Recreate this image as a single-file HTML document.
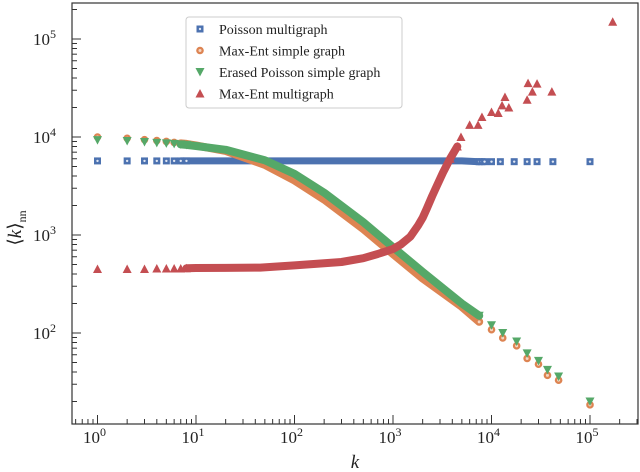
<!DOCTYPE html>
<html><head><meta charset="utf-8">
<style>
html,body{margin:0;padding:0;background:#fff;}
svg{display:block;font-family:"Liberation Serif",serif;}
</style></head>
<body>
<svg id="chart" width="640" height="472" viewBox="0 0 640 472"></svg>
<script>
// ---- data ----
const poissonK = [1,2,3,4,5,6,7,8,9,10,20,50,100,200,500,1000,2000,5000,7500,8000,8500,10000,12300,17000,23000,29000,42000,100000];
const poissonV = [5700,5700,5700,5700,5700,5700,5700,5700,5700,5700,5700,5700,5700,5700,5700,5700,5700,5700,5600,5600,5600,5600,5600,5600,5600,5600,5600,5600];
const simpleK = [1,2,3,4,5,6,7,8,10,20,50,100,200,500,1000,2000,5000,7500,10000,13000,18000,23000,30000,37000,48000,100000];
const simpleV = [10000,9700,9400,9200,9000,8800,8600,8500,8200,7200,5200,3600,2300,1150,640,360,185,130,108,89,74,55,48,37,33,18.5];
const erasedK = [1,2,3,4,5,6,7,8,10,20,50,100,200,500,1000,2000,5000,7500,10000,13000,18000,23000,30000,37000,48000,100000];
const erasedV = [9300,9100,8900,8700,8600,8500,8400,8300,8100,7400,5800,4200,2700,1350,750,420,200,150,120,100,82,62,52,42,36,20];
const multiK = [1,2,3,4,5,6,7,8,10,20,45,100,300,500,700,1000,1200,1500,1800,2000,2200,2500,2800,3200,3800,4500,4900,6000,7300,8000,10000,11700,12800,13700,15000,23000,23500,26000,29000,41000,170000];
const multiV = [450,450,450,455,455,455,455,458,460,462,465,490,530,580,640,720,800,960,1250,1500,1850,2500,3200,4300,6000,8000,10000,13300,13300,16000,18000,17600,21000,25600,20000,24000,35500,29000,35000,29000,150000];
const xTickExp = [0,1,2,3,4,5];
const yTickExp = [2,3,4,5];
const legendLabels = ["Poisson multigraph","Max-Ent simple graph","Erased Poisson simple graph","Max-Ent multigraph"];

// ---- axes ----
const L=72,R=638,T=3,B=424;
const x0=97.5, xDec=98.5, y4=137, yDec=98;
function xs(k){return x0+xDec*Math.log10(k);}
function ys(v){return y4-yDec*(Math.log10(v)-4);}
const NS="http://www.w3.org/2000/svg";
const svg=document.getElementById('chart');
function mk(tag,attrs,parent){const e=document.createElementNS(NS,tag);for(const a in attrs)e.setAttribute(a,attrs[a]);(parent||svg).appendChild(e);return e;}

const C={blue:"#4c72b0",orange:"#dd8452",green:"#55a868",red:"#c44e52"};

const clip=mk('clipPath',{id:'pc'});mk('rect',{x:L,y:T,width:R-L,height:B-T},clip);
const plot=mk('g',{'clip-path':'url(#pc)'});



function marker(g,type,color,x,y){
  let e;
  if(type==='sq'){e=mk('rect',{x:x-3.5,y:y-3.5,width:7,height:7,fill:color},g);mk('circle',{cx:x,cy:y,r:1.2,fill:'#dfe6f2'},g);}
  else if(type==='ci'){e=mk('circle',{cx:x,cy:y,r:3.8,fill:color},g);mk('circle',{cx:x,cy:y,r:1.5,fill:'#f6d6c2'},g);}
  else if(type==='dn'){e=mk('polygon',{points:`${x-4.5},${y-4} ${x+4.5},${y-4} ${x},${y+4.5}`,fill:color},g);}
  else {e=mk('polygon',{points:`${x-4.5},${y+4} ${x+4.5},${y+4} ${x},${y-4.5}`,fill:color},g);}
  return e;
}
function series(name,K,V,type,color,kmin,kmax,lw){
  const g=mk('g',{},plot);
  
  
  let d='';
  K.forEach((k,i)=>{if(k>=kmin&&k<=kmax){d+=(d?'L':'M')+xs(k).toFixed(1)+','+ys(V[i]).toFixed(1);}});
  if(d){const p=mk('path',{d:d,fill:'none',stroke:color,'stroke-width':lw,'stroke-linecap':'round','stroke-linejoin':'round'},g);
    
    }
  K.forEach((k,i)=>{if(k>kmin*1.2&&k<kmax/1.2)return;
    const m=marker(g,type,color,xs(k),ys(V[i]));
    
    });
}
series('poisson-multigraph',poissonK,poissonV,'sq',C.blue,7,7500,7);
series('maxent-simple-graph',simpleK,simpleV,'ci',C.orange,7,7500,8);
series('erased-poisson-simple-graph',erasedK,erasedV,'dn',C.green,7,7500,8);
series('maxent-multigraph',multiK,multiV,'up',C.red,8,4500,8);

// ---- frame & ticks ----
const frame=mk('rect',{x:L,y:T,width:R-L,height:B-T,fill:'none',stroke:'#333',"stroke-width":1.2});


const tg=mk('g',{stroke:'#333','stroke-width':1});


for(let e=-1;e<=5;e++){for(let m=1;m<10;m++){const x=xs(m*Math.pow(10,e));if(x<L||x>R)continue;const len=m===1?9:5;mk('line',{x1:x,y1:B,x2:x,y2:B-len},tg);}}
for(let e=1;e<=5;e++){for(let m=1;m<10;m++){const y=ys(m*Math.pow(10,e));if(y<T||y>B)continue;const len=m===1?9:5;mk('line',{x1:L,y1:y,x2:L+len,y2:y},tg);}}
xTickExp.forEach(e=>{const t=mk('text',{x:xs(Math.pow(10,e))-3,y:443,'font-size':17,'text-anchor':'middle',fill:'#222'});
  
  
  t.textContent='10';const s=mk('tspan',{dy:-7,'font-size':12},t);s.textContent=String(e);});
yTickExp.forEach(e=>{const t=mk('text',{x:56,y:ys(Math.pow(10,e))+6,'font-size':17,'text-anchor':'end',fill:'#222'});
  
  
  t.textContent='10';const s=mk('tspan',{dy:-7,'font-size':12},t);s.textContent=String(e);});
const xl=mk('text',{x:355,y:468,'font-size':19,'font-style':'italic','text-anchor':'middle',fill:'#222'});


xl.textContent='k';
const yl=mk('text',{x:0,y:0,'font-size':19,'text-anchor':'middle',fill:'#222',transform:'translate(21,228) rotate(-90)'});


yl.textContent='⟨';const yk=mk('tspan',{'font-style':'italic'},yl);yk.textContent='k';
const yr=mk('tspan',{},yl);yr.textContent='⟩';const ys2=mk('tspan',{dy:5,'font-size':12},yl);ys2.textContent='nn';

// ---- legend ----
const lg=mk('g',{});


mk('rect',{x:186,y:17,width:216,height:91,rx:3,fill:'#fff','fill-opacity':0.85,stroke:'#ccc'},lg);
const types=['sq','ci','dn','up'],cols=[C.blue,C.orange,C.green,C.red];
legendLabels.forEach((lab,i)=>{const y=29+i*21.5;
  const e=mk('g',{},lg);
  
  
  marker(e,types[i],cols[i],200,y);
  const t=mk('text',{x:219,y:y+5,'font-size':14,fill:'#222'},e);t.textContent=lab;});
</script>
</body></html>
